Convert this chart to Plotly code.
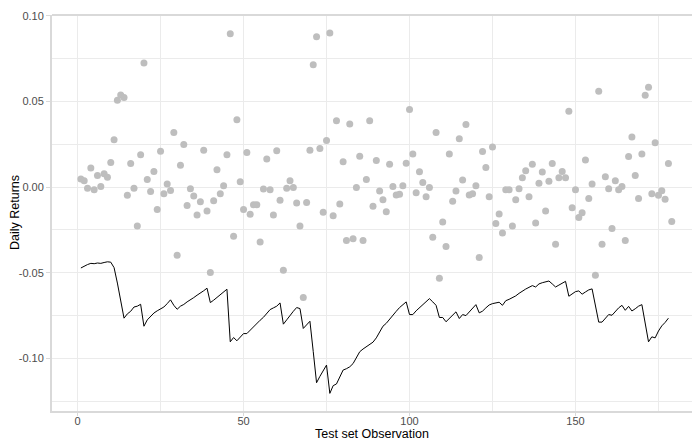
import plotly.graph_objects as go

# Daily returns on the test set (one per observation)
returns = [
    0.0047, 0.0037, -0.0006, 0.0111, -0.0015, 0.0068, 0.0004, 0.0078, 0.0058, 0.0144,
    0.0276, 0.0507, 0.0538, 0.0523, -0.0048, 0.0138, -0.0006, -0.0227, 0.0189, 0.0725,
    0.0045, -0.0025, 0.0091, -0.0130, 0.0210, -0.0039, 0.0018, -0.0019, 0.0319, -0.0398,
    0.0128, 0.0249, -0.0107, -0.0010, -0.0052, -0.0163, -0.0085, 0.0216, -0.0140, -0.0499,
    -0.0079, 0.0101, -0.0039, 0.0008, 0.0189, 0.0896, -0.0287, 0.0393, 0.0031, -0.0130,
    0.0202, -0.0159, -0.0103, -0.0103, -0.0321, -0.0011, 0.0165, -0.0015, -0.0163, 0.0212,
    -0.0076, -0.0485, -0.0006, 0.0037, -0.0002, -0.0093, -0.0227, -0.0645, -0.0089, 0.0216,
    0.0715, 0.0878, 0.0226, -0.0147, 0.0272, 0.0900, -0.0167, 0.0387, -0.0099, 0.0148,
    -0.0311, 0.0369, -0.0301, -0.0002, 0.0181, -0.0311, 0.0045, 0.0388, -0.0112, 0.0156,
    -0.0023, -0.0074, -0.0144, 0.0134, 0.0004, -0.0046, -0.0042, 0.0008, 0.0140, 0.0453,
    0.0194, -0.0033, 0.0090, 0.0027, -0.0056, -0.0002, -0.0293, 0.0319, -0.0532, -0.0204,
    -0.0347, 0.0194, -0.0083, -0.0023, 0.0282, 0.0041, 0.0365, -0.0046, -0.0039, 0.0008,
    -0.0411, 0.0208, 0.0115, -0.0056, 0.0235, -0.0213, -0.0157, -0.0268, -0.0015, -0.0015,
    -0.0227, -0.0074, -0.0010, 0.0055, 0.0095, -0.0056, 0.0134, -0.0210, 0.0022, 0.0088,
    -0.0140, 0.0035, 0.0138, -0.0334, 0.0055, 0.0091, 0.0055, 0.0443, -0.0120, -0.0015,
    -0.0177, -0.0149, 0.0158, -0.0066, 0.0018, -0.0515, 0.0560, -0.0334, 0.0060, -0.0010,
    -0.0241, 0.0037, -0.0015, 0.0004, -0.0311, 0.0179, 0.0292, 0.0068, -0.0066, 0.0194,
    0.0536, 0.0583, -0.0039, 0.0259, -0.0048, -0.0021, -0.0070, 0.0138, -0.0200,
]
obs = list(range(1, len(returns) + 1))

# Fitted series drawn as a line
fitted = [
    -0.0472, -0.0460, -0.0452, -0.0445, -0.0447, -0.0443, -0.0445, -0.0440, -0.0436, -0.0438,
    -0.0470, -0.0560, -0.0660, -0.0765, -0.0740, -0.0725, -0.0700, -0.0695, -0.0684, -0.0812,
    -0.0775, -0.0755, -0.0735, -0.0722, -0.0712, -0.0700, -0.0680, -0.0658, -0.0690, -0.0713,
    -0.0695, -0.0685, -0.0670, -0.0655, -0.0645, -0.0631, -0.0620, -0.0605, -0.0590, -0.0674,
    -0.0660, -0.0645, -0.0630, -0.0615, -0.0596, -0.0903, -0.0878, -0.0897, -0.0875, -0.0855,
    -0.0855, -0.0835, -0.0812, -0.0795, -0.0777, -0.0760, -0.0740, -0.0715, -0.0705, -0.0695,
    -0.0676, -0.0800, -0.0775, -0.0748, -0.0725, -0.0703, -0.0709, -0.0825, -0.0802, -0.0783,
    -0.0960, -0.1142, -0.1105, -0.1070, -0.1039, -0.1204, -0.1159, -0.1149, -0.1107, -0.1068,
    -0.1060, -0.1049, -0.1030, -0.0991, -0.0961, -0.0945, -0.0930, -0.0920, -0.0905, -0.0880,
    -0.0845, -0.0812, -0.0795, -0.0770, -0.0748, -0.0725, -0.0703, -0.0688, -0.0670, -0.0744,
    -0.0744, -0.0722, -0.0703, -0.0685, -0.0668, -0.0651, -0.0670, -0.0690, -0.0761, -0.0761,
    -0.0786, -0.0765, -0.0745, -0.0728, -0.0767, -0.0744, -0.0750, -0.0730, -0.0705, -0.0686,
    -0.0734, -0.0724, -0.0705, -0.0688, -0.0680, -0.0676, -0.0672, -0.0690, -0.0663, -0.0655,
    -0.0647, -0.0635, -0.0620, -0.0606, -0.0595, -0.0585, -0.0575, -0.0583, -0.0565, -0.0558,
    -0.0552, -0.0548, -0.0565, -0.0583, -0.0572, -0.0560, -0.0550, -0.0637, -0.0625, -0.0610,
    -0.0606, -0.0625, -0.0612, -0.0600, -0.0594, -0.0690, -0.0788, -0.0788, -0.0765, -0.0744,
    -0.0748, -0.0725, -0.0705, -0.0690, -0.0719, -0.0696, -0.0723, -0.0710, -0.0695, -0.0686,
    -0.0800, -0.0903, -0.0874, -0.0880, -0.0840, -0.0810, -0.0790, -0.0765,
]
fitted_obs = list(range(1, len(fitted) + 1))

x_ticks = [0, 50, 100, 150]
y_ticks = [-0.10, -0.05, 0.00, 0.05, 0.10]
y_tick_text = ["-0.10", "-0.05", "0.00", "0.05", "0.10"]

grid = "#EBEBEB"
axis_grey = "#D9D9D9"
tick_font = dict(family="Liberation Sans, Arial, sans-serif", size=11, color="#4D4D4D")
title_font = dict(family="Liberation Sans, Arial, sans-serif", size=12.5, color="#000000")

fig = go.Figure()
fig.add_trace(go.Scatter(
    x=obs, y=returns, mode="markers",
    marker=dict(color="#BEBEBE", size=7, line=dict(width=0)),
    showlegend=False, hoverinfo="skip",
))
fig.add_trace(go.Scatter(
    x=fitted_obs, y=fitted, mode="lines",
    line=dict(color="#000000", width=1),
    showlegend=False, hoverinfo="skip",
))

plot_w = 692 - 52
plot_h = 442 - 15 - 31

fig.update_layout(
    width=692, height=442,
    margin=dict(l=52, r=0, t=15, b=31),
    paper_bgcolor="white", plot_bgcolor="white",
    xaxis=dict(
        range=[-7.7, 185.1],
        tickvals=x_ticks, ticktext=[str(v) for v in x_ticks],
        showgrid=True, gridcolor=grid, gridwidth=1,
        minor=dict(showgrid=True, gridcolor=grid, gridwidth=1, tickvals=[25, 75, 125, 175]),
        zeroline=False,
        showline=True, linecolor=axis_grey, linewidth=2,
        ticks="outside", ticklen=3, tickcolor=axis_grey, tickwidth=1,
        tickfont=tick_font, ticklabelstandoff=-4,
        automargin=False,
    ),
    yaxis=dict(
        range=[-0.1307, 0.1005],
        tickvals=y_ticks, ticktext=y_tick_text,
        showgrid=True, gridcolor=grid, gridwidth=1,
        minor=dict(showgrid=True, gridcolor=grid, gridwidth=1,
                   tickvals=[-0.125, -0.075, -0.025, 0.025, 0.075]),
        zeroline=False,
        showline=True, linecolor=axis_grey, linewidth=2, mirror=False,
        ticks="outside", ticklen=4, tickcolor=axis_grey, tickwidth=1,
        tickfont=tick_font,
        automargin=False,
    ),
    shapes=[dict(type="line", xref="paper", yref="paper", x0=0, x1=1, y0=1, y1=1,
                 line=dict(color=axis_grey, width=2))],
    annotations=[
        dict(text="Test set Observation", font=title_font, showarrow=False,
             xref="paper", yref="paper", x=(372 - 52) / plot_w, y=-31.5 / plot_h,
             xanchor="center", yanchor="bottom"),
        dict(text="Daily Returns", font=title_font, showarrow=False, textangle=-90,
             xref="paper", yref="paper", x=(15 - 52) / plot_w, y=0.5,
             xanchor="center", yanchor="middle"),
    ],
)

fig.write_html("out.html")
